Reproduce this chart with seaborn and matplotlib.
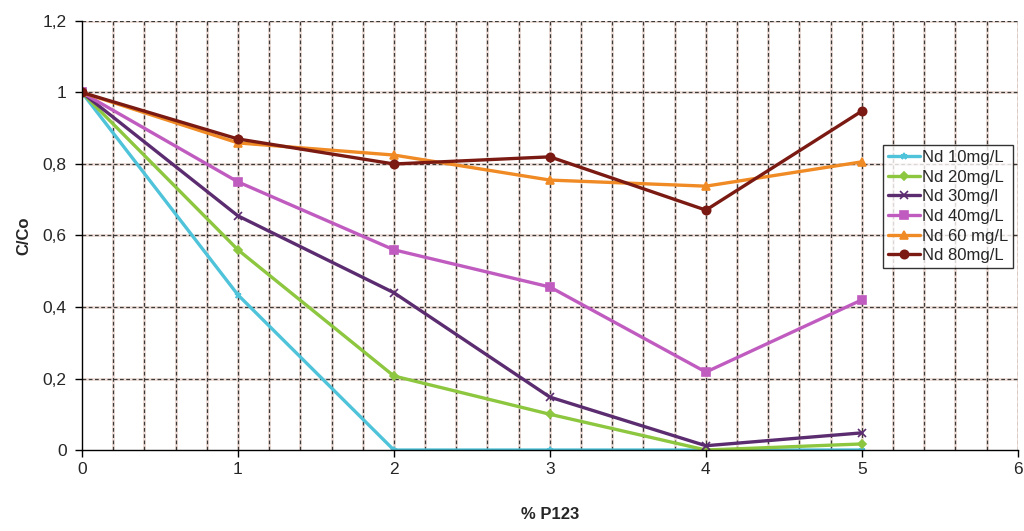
import numpy as np
import pandas as pd
import seaborn as sns
import matplotlib.pyplot as plt
from matplotlib.ticker import MultipleLocator, FuncFormatter

sns.set_style("white")
plt.rcParams['font.family'] = ['Liberation Sans', 'DejaVu Sans']

# data
p123 = [0, 1, 2, 3, 4, 5]
nd10 = [1.0, 0.434, 0.0, 0.0, 0.0, 0.0]
nd20 = [1.0, 0.56, 0.207, 0.10, 0.0, 0.017]
nd30 = [1.0, 0.655, 0.44, 0.148, 0.012, 0.048]
nd40 = [1.0, 0.75, 0.56, 0.456, 0.218, 0.42]
nd60 = [1.0, 0.859, 0.825, 0.755, 0.738, 0.806]
nd80 = [1.0, 0.87, 0.80, 0.82, 0.671, 0.948]

labels = ["Nd 10mg/L", "Nd 20mg/L", "Nd 30mg/l", "Nd 40mg/L", "Nd 60 mg/L", "Nd 80mg/L"]
series = [nd10, nd20, nd30, nd40, nd60, nd80]
colors = ["#4fc3d9", "#8dc63f", "#5b2c6f", "#c05cc0", "#f08a24", "#7a1a12"]
markers = ["*", "D", "x", "s", "^", "o"]
msizes = [5, 4, 6, 6, 6, 6]

fig = plt.figure(figsize=(10.24, 5.31), dpi=100)
ax = fig.add_axes([0.080, 0.1525, 0.914, 0.808])

# grid: faint halo with gray dashes on top
for xv in np.arange(0.2, 6.01, 0.2):
    ax.axvline(xv, color="#eedcd6", lw=2.0, zorder=0)
    ax.axvline(xv, color="#3a3a3a", lw=0.9, ls=(0, (3, 2)), zorder=0.5)
for yv in np.arange(0.2, 1.21, 0.2):
    ax.axhline(yv, color="#eedcd6", lw=2.0, zorder=0)
    ax.axhline(yv, color="#3a3a3a", lw=0.9, ls=(0, (3, 2)), zorder=0.5)

for lab, vals, c, m, ms in zip(labels, series, colors, markers, msizes):
    df = pd.DataFrame({"x": p123, "y": vals})
    sns.lineplot(data=df, x="x", y="y", ax=ax, color=c, marker=m, markersize=ms,
                 markeredgecolor=c, markeredgewidth=1.2, lw=2.4, label=lab, zorder=3)

ax.set_xlim(0, 6)
ax.set_ylim(0, 1.2)
ax.xaxis.set_major_locator(MultipleLocator(1))
ax.yaxis.set_major_locator(MultipleLocator(0.2))
ax.yaxis.set_major_formatter(FuncFormatter(lambda v, p: ("%g" % round(v, 1)).replace(".", ",")))
ax.tick_params(axis="both", direction="out", length=5, width=1, labelsize=12.5, color="black", bottom=True, left=True)
ax.tick_params(axis="y", pad=6)
for s in ["top", "right"]:
    ax.spines[s].set_visible(False)
for s in ["left", "bottom"]:
    ax.spines[s].set_color("black")
    ax.spines[s].set_linewidth(1)
    ax.spines[s].set_zorder(4)

ax.set_xlabel("% P123", fontsize=12, fontweight="bold", labelpad=22)
ax.set_ylabel("C/Co", fontsize=12, fontweight="bold", labelpad=8)

leg = ax.legend(loc="upper left", bbox_to_anchor=(0.856, 0.711), fontsize=12,
                frameon=True, fancybox=False, edgecolor="black", handlelength=1.9,
                handletextpad=0.15, borderpad=0.3, labelspacing=0.28, borderaxespad=0)
leg.get_frame().set_linewidth(1)

fig.savefig("out.png", dpi=100)
